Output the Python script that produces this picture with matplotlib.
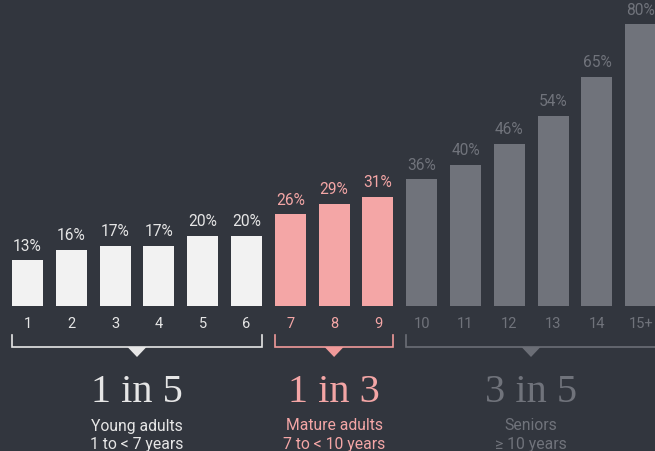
import matplotlib
matplotlib.use("Agg")
import matplotlib.pyplot as plt
from matplotlib.patches import Polygon

# ---- data ----
years = ["1", "2", "3", "4", "5", "6", "7", "8", "9", "10", "11", "12", "13", "14", "15+"]
percent = [13, 16, 17, 17, 20, 20, 26, 29, 31, 36, 40, 46, 54, 65, 80]
group_of = [0, 0, 0, 0, 0, 0, 1, 1, 1, 2, 2, 2, 2, 2, 2]
group_ratio = ["1 in 5", "1 in 3", "3 in 5"]
group_name = ["Young adults", "Mature adults", "Seniors"]
group_range = ["1 to < 7 years", "7 to < 10 years", "\u2265 10 years"]

# ---- style ----
BG = "#32363e"
bar_colors = ["#f2f2f2", "#f4a6a6", "#70737b"]
text_colors = ["#e6e6e6", "#f4a6a6", "#70737b"]
line_colors = ["#e6e6e6", "#f09a9a", "#6b6e76"]

W, H = 655, 451
fig = plt.figure(figsize=(W / 100, H / 100), dpi=100, facecolor=BG)
ax = fig.add_axes([0, 0, 1, 1])
ax.set_facecolor(BG)
ax.axis("off")

step = 43.8      # px between bar centres
x0 = 27.5        # px centre of first bar
base = 306       # px (from top) baseline of bars
ppu = 3.52       # px per percent
ax.set_xlim(-x0 / step, (W - x0) / step)
ax.set_ylim(-(H - base) / ppu, base / ppu)

def ypx(py):
    return (base - py) / ppu

bw = 31 / step
xs = list(range(len(years)))
cols = [bar_colors[g] for g in group_of]
ax.bar(xs, percent, width=bw, color=cols, linewidth=0)

for x, v, g in zip(xs, percent, group_of):
    ax.annotate(f"{v}%", (x, v), xytext=(0, 7), textcoords="offset points",
                ha="center", va="baseline", fontsize=11.2, family="Roboto",
                color=text_colors[g])

for x, lab, g in zip(xs, years, group_of):
    ax.text(x, ypx(327.5), lab, ha="center", va="baseline", fontsize=10.5,
            family="Roboto", color=text_colors[g])

# brackets
for g in range(3):
    idx = [i for i in xs if group_of[i] == g]
    left = idx[0] - bw / 2
    right = idx[-1] + bw / 2
    c = line_colors[g]
    yt, yb = ypx(335), ypx(347)
    ax.plot([left, left, right, right], [yt, yb, yb, yt], color=c, lw=1.2,
            solid_joinstyle="miter", clip_on=False)
    if g == 2:
        cx = 531 / step - x0 / step
    else:
        cx = (left + right) / 2
    hw = 9.5 / step
    tri = Polygon([[cx - hw, yb], [cx + hw, yb], [cx, ypx(357)]], closed=True,
                  facecolor=c, edgecolor="none")
    ax.add_patch(tri)
    ax.text(cx, ypx(392), group_ratio[g], ha="center", va="center",
            fontsize=29, family="Liberation Serif",
            color=text_colors[g])
    ax.text(cx, ypx(426), group_name[g], ha="center", va="center",
            fontsize=11.3, family="Roboto", color=text_colors[g])
    ax.text(cx, ypx(445), group_range[g], ha="center", va="center",
            fontsize=11.3, family="Roboto", color=text_colors[g])

fig.savefig("out.png", dpi=100, facecolor=BG)
